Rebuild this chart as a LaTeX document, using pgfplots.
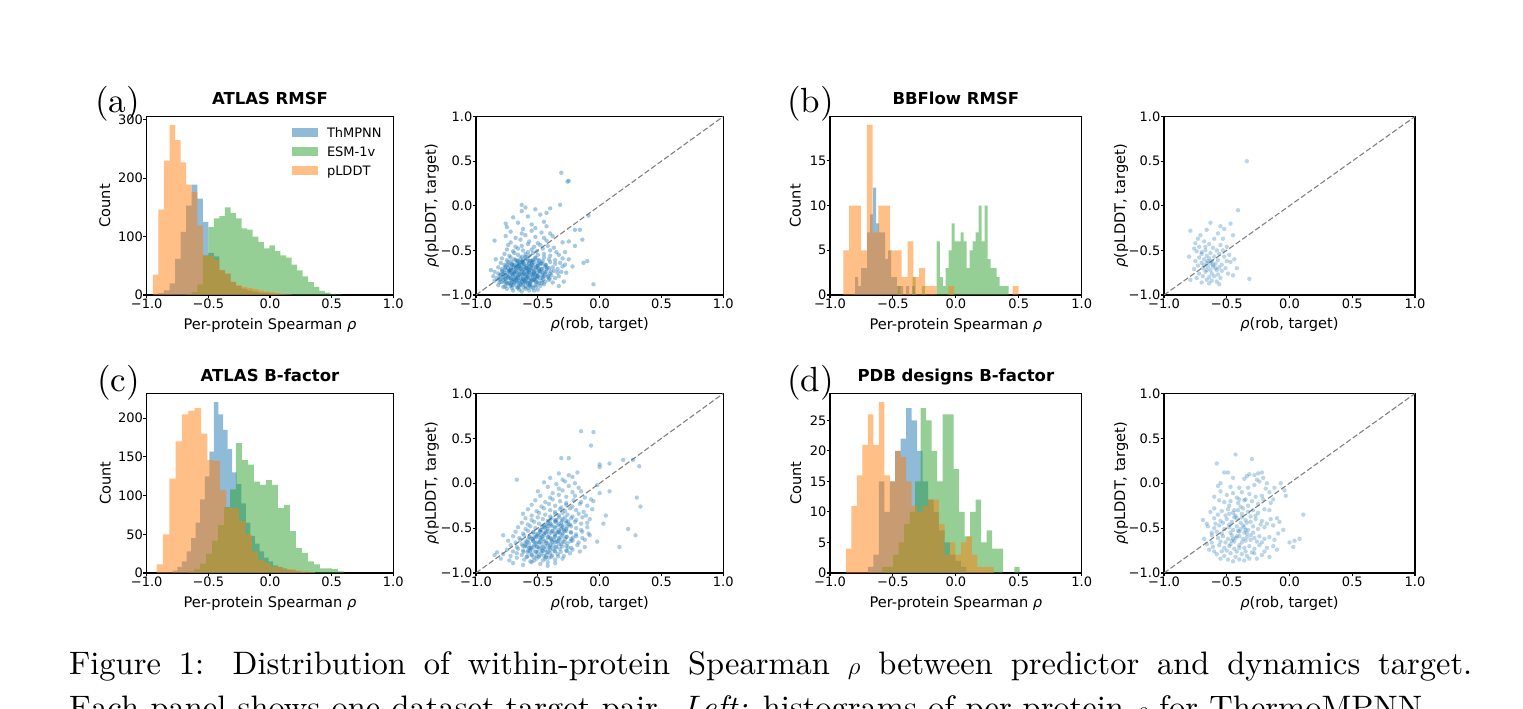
\documentclass[border=0pt]{standalone}
\usepackage{fontspec}
\usepackage{pgfplots}
\pgfplotsset{compat=1.18}
\newfontfamily\dv{DejaVu Sans}
\newfontfamily\capfont[ItalicFont=lmroman10-italic.otf, BoldFont=lmroman10-bold.otf]{lmroman10-regular.otf}
\definecolor{c0}{HTML}{1F77B4}
\definecolor{c1}{HTML}{2CA02C}
\definecolor{c2}{HTML}{FF7F0E}
\pgfplotsset{
 base/.style={scale only axis, anchor=south west, xmin=-1, xmax=1,
   xtick={-1,-0.5,0,0.5,1}, xticklabels={−1.0,−0.5,0.0,0.5,1.0},
   tick align=outside, major tick length=3.5pt, xtick pos=left, ytick pos=left,
   axis line style={line width=1.1pt}, every tick/.style={black, line width=1.1pt},
   tick label style={font=\dv\fontsize{13}{15}\selectfont, inner sep=0pt},
   label style={font=\dv\fontsize{14.6}{17}\selectfont},
   title style={font=\dv\bfseries\fontsize{16.5}{19}\selectfont, anchor=base, at={(axis description cs:0.5,1.0336)}},
   xlabel style={at={(axis description cs:0.5,-0.1905)}, anchor=base},
 },
 hist/.style={base, ymin=0, xlabel={Per-protein Spearman {\itshape ρ}}, ylabel={Count}},
 sc/.style={base, ymin=-1, ymax=1, ytick={-1,-0.5,0,0.5,1}, yticklabels={−1.0,−0.5,0.0,0.5,1.0},
   xlabel={{\itshape ρ}(rob, target)}, ylabel={{\itshape ρ}(pLDDT, target)}},
 bar/.style={ybar interval, draw=none, fill=#1, fill opacity=0.5, forget plot},
 pts/.style={only marks, mark=*, mark size=2.2pt, c0, mark options={draw=c0, fill=c0, draw opacity=0, fill opacity=#1}, forget plot},
 pts/.default=0.3,
 diag/.style={black!50, line width=1.1pt, dash pattern=on 5.5pt off 2.5pt, forget plot},
}
\begin{document}
\begin{tikzpicture}
\path[use as bounding box] (0pt,0pt) rectangle (1523pt,709pt);
\clip (0pt,0pt) rectangle (1523pt,709pt);

% ---------------- (a) histogram ----------------
\begin{axis}[hist, at={(146.7pt,414pt)}, width=246.6pt, height=178.5pt,
  ymax=305.5, ytick={0,100,200,300}, yticklabels={0,100,200,300},
  title={ATLAS RMSF},
  ylabel style={at={(axis description cs:-0.1488,0.5)}, anchor=base},
  legend style={at={(axis description cs:0.588,0.938)}, anchor=north west, draw=none, fill=none,
    inner sep=0pt, row sep=9.5pt, column sep=9.4pt, font=\dv\fontsize{13}{15}\selectfont,
    nodes={inner sep=0pt, text height=9.5pt, text depth=0pt}},
  legend cell align=left,
  legend image code/.code={\fill[#1] (0pt,-4.2pt) rectangle (25.7pt,4.2pt);}]
\addplot[bar=c0] coordinates {(-0.950,0) (-0.905,3) (-0.860,8) (-0.815,20) (-0.770,62) (-0.725,108) (-0.680,153) (-0.635,189) (-0.590,165) (-0.545,125) (-0.500,72) (-0.455,66) (-0.410,42) (-0.365,36) (-0.320,22) (-0.275,15) (-0.230,11) (-0.185,8) (-0.140,6) (-0.095,4) (-0.050,3) (-0.005,2) (0.040,1) (0.085,0)};
\addplot[bar=c1] coordinates {(-0.680,2) (-0.635,5) (-0.590,18) (-0.545,68) (-0.500,116) (-0.455,131) (-0.410,135) (-0.365,150) (-0.320,140) (-0.275,131) (-0.230,114) (-0.185,112) (-0.140,100) (-0.095,91) (-0.050,80) (-0.005,85) (0.040,75) (0.085,68) (0.130,64) (0.175,52) (0.220,42) (0.265,32) (0.310,22) (0.355,14) (0.400,7) (0.445,4) (0.490,2) (0.535,1) (0.580,0)};
\addplot[bar=c2] coordinates {(-0.950,35) (-0.905,146) (-0.860,230) (-0.815,291) (-0.770,265) (-0.725,227) (-0.680,189) (-0.635,176) (-0.590,119) (-0.545,68) (-0.500,67) (-0.455,60) (-0.410,43) (-0.365,37) (-0.320,23) (-0.275,17) (-0.230,14) (-0.185,12) (-0.140,10) (-0.095,8) (-0.050,6) (-0.005,5) (0.040,3) (0.085,2) (0.130,1) (0.175,0)};
\addlegendimage{fill=c0, fill opacity=0.5, draw=none}
\addlegendentry{ThMPNN}
\addlegendimage{fill=c1, fill opacity=0.5, draw=none}
\addlegendentry{ESM-1v}
\addlegendimage{fill=c2, fill opacity=0.5, draw=none}
\addlegendentry{pLDDT}
\end{axis}

% ---------------- (a) scatter ----------------
\begin{axis}[sc, at={(476pt,414pt)}, width=247.3pt, height=178.5pt,
  ylabel style={at={(axis description cs:-0.162,0.5)}, anchor=base}]
\addplot[pts=0.4] coordinates {
(-0.75,-0.93) (-0.70,-0.95) (-0.66,-0.92) (-0.63,-0.96) (-0.60,-0.93) (-0.57,-0.95) (-0.54,-0.92) (-0.50,-0.94)
(-0.82,-0.89) (-0.78,-0.91) (-0.75,-0.88) (-0.72,-0.90) (-0.69,-0.87) (-0.67,-0.91) (-0.64,-0.89) (-0.62,-0.88) (-0.60,-0.90) (-0.58,-0.87) (-0.55,-0.91) (-0.52,-0.89) (-0.48,-0.90) (-0.45,-0.88)
(-0.85,-0.84) (-0.81,-0.86) (-0.78,-0.83) (-0.76,-0.85) (-0.73,-0.86) (-0.71,-0.84) (-0.69,-0.82) (-0.67,-0.86) (-0.65,-0.84) (-0.63,-0.85) (-0.61,-0.83) (-0.59,-0.86) (-0.57,-0.84) (-0.55,-0.85) (-0.53,-0.83) (-0.50,-0.86) (-0.47,-0.84) (-0.44,-0.85) (-0.41,-0.83) (-0.38,-0.86)
(-0.86,-0.79) (-0.83,-0.81) (-0.80,-0.78) (-0.78,-0.80) (-0.76,-0.82) (-0.74,-0.79) (-0.72,-0.81) (-0.70,-0.78) (-0.68,-0.80) (-0.66,-0.81) (-0.64,-0.79) (-0.62,-0.82) (-0.60,-0.78) (-0.58,-0.80) (-0.56,-0.81) (-0.54,-0.79) (-0.52,-0.80) (-0.50,-0.78) (-0.48,-0.81) (-0.45,-0.79) (-0.42,-0.80) (-0.39,-0.78) (-0.36,-0.81) (-0.33,-0.79)
(-0.85,-0.74) (-0.82,-0.76) (-0.79,-0.73) (-0.77,-0.75) (-0.75,-0.77) (-0.73,-0.74) (-0.71,-0.76) (-0.69,-0.73) (-0.67,-0.75) (-0.65,-0.77) (-0.63,-0.74) (-0.61,-0.76) (-0.59,-0.73) (-0.57,-0.75) (-0.55,-0.77) (-0.53,-0.74) (-0.51,-0.76) (-0.49,-0.73) (-0.46,-0.75) (-0.43,-0.74) (-0.40,-0.76) (-0.37,-0.73) (-0.34,-0.75) (-0.31,-0.74)
(-0.82,-0.69) (-0.79,-0.71) (-0.76,-0.68) (-0.74,-0.70) (-0.72,-0.72) (-0.70,-0.69) (-0.68,-0.71) (-0.66,-0.68) (-0.64,-0.70) (-0.62,-0.72) (-0.60,-0.69) (-0.58,-0.71) (-0.56,-0.68) (-0.54,-0.70) (-0.52,-0.72) (-0.50,-0.69) (-0.47,-0.71) (-0.44,-0.68) (-0.41,-0.70) (-0.38,-0.69) (-0.34,-0.71) (-0.30,-0.68)
(-0.80,-0.64) (-0.77,-0.66) (-0.74,-0.63) (-0.71,-0.65) (-0.69,-0.67) (-0.67,-0.64) (-0.65,-0.66) (-0.63,-0.63) (-0.61,-0.65) (-0.59,-0.67) (-0.57,-0.64) (-0.55,-0.66) (-0.53,-0.63) (-0.50,-0.65) (-0.47,-0.64) (-0.44,-0.66) (-0.40,-0.63) (-0.36,-0.65) (-0.32,-0.64) (-0.28,-0.66)
(-0.79,-0.59) (-0.75,-0.61) (-0.72,-0.58) (-0.69,-0.60) (-0.66,-0.62) (-0.64,-0.59) (-0.62,-0.61) (-0.60,-0.58) (-0.58,-0.60) (-0.55,-0.62) (-0.52,-0.59) (-0.49,-0.61) (-0.45,-0.58) (-0.41,-0.60) (-0.36,-0.61) (-0.30,-0.59)
(-0.77,-0.54) (-0.73,-0.56) (-0.69,-0.53) (-0.66,-0.55) (-0.63,-0.57) (-0.60,-0.54) (-0.57,-0.56) (-0.54,-0.53) (-0.50,-0.55) (-0.45,-0.54) (-0.40,-0.56) (-0.33,-0.55)
(-0.75,-0.49) (-0.70,-0.51) (-0.66,-0.48) (-0.62,-0.50) (-0.58,-0.52) (-0.55,-0.49) (-0.51,-0.51) (-0.46,-0.48) (-0.40,-0.50) (-0.35,-0.52)
(-0.74,-0.44) (-0.68,-0.46) (-0.63,-0.45) (-0.58,-0.43) (-0.53,-0.46) (-0.48,-0.44) (-0.42,-0.45) (-0.37,-0.47)
(-0.85,-0.39) (-0.72,-0.41) (-0.64,-0.38) (-0.57,-0.40) (-0.50,-0.42) (-0.43,-0.39) (-0.30,-0.41)
(-0.76,-0.34) (-0.68,-0.36) (-0.60,-0.33) (-0.52,-0.35) (-0.45,-0.36) (-0.38,-0.34)
(-0.72,-0.29) (-0.63,-0.31) (-0.55,-0.28) (-0.47,-0.30) (-0.40,-0.31)
(-0.75,-0.24) (-0.62,-0.26) (-0.52,-0.25) (-0.43,-0.23)
(-0.76,-0.20) (-0.66,-0.19) (-0.55,-0.21) (-0.45,-0.18)
(-0.70,-0.13) (-0.58,-0.12) (-0.48,-0.10) (-0.63,-0.06) (-0.52,-0.04) (-0.63,0.01) (-0.60,-0.02) (-0.40,-0.03) (-0.32,0.01) (-0.43,-0.08)
(-0.31,0.37) (-0.25,0.28) (-0.26,0.27) (-0.09,-0.11) (-0.20,-0.27) (-0.16,-0.27) (-0.14,-0.38) (-0.20,-0.45) (-0.10,-0.62) (-0.13,-0.64) (-0.05,-0.88) (-0.28,-0.52) (-0.25,-0.60) (-0.22,-0.68) (-0.27,-0.75) (-0.29,-0.85) (-0.88,-0.72) (-0.84,-0.60) (-0.25,-0.40) (-0.33,-0.90)
(-0.72,-0.87) (-0.68,-0.84) (-0.64,-0.88) (-0.60,-0.85) (-0.56,-0.88) (-0.52,-0.84) (-0.74,-0.81) (-0.70,-0.83) (-0.66,-0.78) (-0.62,-0.82) (-0.58,-0.77) (-0.54,-0.83) (-0.50,-0.79) (-0.73,-0.72) (-0.69,-0.76) (-0.65,-0.71) (-0.61,-0.77) (-0.57,-0.72) (-0.53,-0.76) (-0.49,-0.71) (-0.71,-0.66) (-0.67,-0.69) (-0.63,-0.67) (-0.59,-0.70) (-0.55,-0.66) (-0.51,-0.68) (-0.47,-0.65) (-0.68,-0.61) (-0.64,-0.63) (-0.60,-0.57) (-0.56,-0.62) (-0.52,-0.58)
(-0.71,-0.92) (-0.65,-0.94) (-0.58,-0.92) (-0.53,-0.95) (-0.77,-0.86) (-0.70,-0.89) (-0.62,-0.86) (-0.57,-0.89) (-0.49,-0.87) (-0.80,-0.82) (-0.73,-0.80) (-0.67,-0.83) (-0.59,-0.81) (-0.53,-0.82) (-0.46,-0.80) (-0.78,-0.77) (-0.72,-0.75) (-0.64,-0.76) (-0.58,-0.75) (-0.52,-0.77) (-0.44,-0.77) (-0.76,-0.72) (-0.68,-0.74) (-0.61,-0.71) (-0.55,-0.73) (-0.48,-0.74) (-0.73,-0.67) (-0.65,-0.68) (-0.57,-0.69) (-0.50,-0.67) (-0.43,-0.71) (-0.62,-0.64) (-0.54,-0.61) (-0.46,-0.62)
(-0.765,-0.905) (-0.715,-0.885) (-0.655,-0.905) (-0.615,-0.915) (-0.565,-0.895) (-0.515,-0.905)
(-0.795,-0.855) (-0.745,-0.865) (-0.695,-0.855) (-0.655,-0.865) (-0.605,-0.845) (-0.565,-0.865) (-0.515,-0.855) (-0.465,-0.865)
(-0.815,-0.825) (-0.765,-0.815) (-0.715,-0.825) (-0.675,-0.815) (-0.635,-0.825) (-0.595,-0.815) (-0.555,-0.835) (-0.505,-0.815) (-0.455,-0.825) (-0.405,-0.815)
(-0.805,-0.775) (-0.755,-0.785) (-0.705,-0.775) (-0.665,-0.795) (-0.625,-0.775) (-0.585,-0.795) (-0.545,-0.775) (-0.505,-0.795) (-0.465,-0.775) (-0.415,-0.785)
(-0.785,-0.745) (-0.735,-0.735) (-0.695,-0.745) (-0.655,-0.735) (-0.615,-0.745) (-0.575,-0.735) (-0.535,-0.745) (-0.485,-0.735) (-0.445,-0.745) (-0.395,-0.735)
(-0.765,-0.695) (-0.715,-0.705) (-0.675,-0.695) (-0.635,-0.705) (-0.595,-0.695) (-0.555,-0.705) (-0.515,-0.695) (-0.465,-0.705) (-0.425,-0.695)
(-0.745,-0.655) (-0.695,-0.665) (-0.655,-0.655) (-0.615,-0.665) (-0.575,-0.655) (-0.535,-0.665) (-0.485,-0.655) (-0.435,-0.665)
(-0.715,-0.625) (-0.665,-0.615) (-0.625,-0.625) (-0.585,-0.615) (-0.545,-0.625) (-0.495,-0.615)
};
\addplot[diag] coordinates {(-1,-1) (1,1)};
\end{axis}

% ---------------- (b) histogram ----------------
\begin{axis}[hist, at={(830pt,414pt)}, width=251.7pt, height=178.5pt,
  ymax=19.95, ytick={0,5,10,15}, yticklabels={0,5,10,15},
  title={BBFlow RMSF},
  ylabel style={at={(axis description cs:-0.1164,0.5)}, anchor=base}]
\addplot[bar=c0] coordinates {(-0.801,2) (-0.777,1) (-0.753,3) (-0.730,3) (-0.706,7) (-0.682,9) (-0.658,12) (-0.634,8) (-0.610,7) (-0.587,7) (-0.563,4) (-0.539,5) (-0.515,2) (-0.491,2) (-0.468,1) (-0.444,1) (-0.420,0) (-0.396,1) (-0.372,0) (-0.348,1) (-0.325,0)};
\addplot[bar=c1] coordinates {(-0.462,1) (-0.438,0) (-0.414,0) (-0.390,0) (-0.366,0) (-0.343,2) (-0.319,0) (-0.295,0) (-0.271,1) (-0.247,0) (-0.224,0) (-0.200,0) (-0.176,0) (-0.152,6) (-0.128,2) (-0.104,1) (-0.081,3) (-0.057,5) (-0.033,8) (-0.009,6) (0.015,6) (0.038,7) (0.062,6) (0.086,3) (0.110,5) (0.134,6) (0.157,7) (0.181,10) (0.205,6) (0.229,10) (0.253,4) (0.276,3) (0.300,3) (0.324,2) (0.348,1) (0.372,1) (0.395,1) (0.419,0)};
\addplot[bar=c2] coordinates {(-0.894,5) (-0.848,10) (-0.801,10) (-0.755,5) (-0.708,19) (-0.662,7) (-0.616,10) (-0.569,10) (-0.523,5) (-0.476,5) (-0.430,2) (-0.384,6) (-0.337,2) (-0.291,3) (-0.244,1) (-0.198,1) (-0.152,0) (-0.105,0) (-0.059,1) (-0.012,0) (0.034,0) (0.080,0) (0.127,0) (0.173,0) (0.220,0) (0.266,0) (0.313,0) (0.359,0) (0.405,0) (0.452,1) (0.498,0)};
\end{axis}

% ---------------- (b) scatter ----------------
\begin{axis}[sc, at={(1164pt,414pt)}, width=251pt, height=178.5pt,
  ylabel style={at={(axis description cs:-0.155,0.5)}, anchor=base}]
\addplot[pts] coordinates {
(-0.34,0.50) (-0.41,-0.05) (-0.47,-0.20) (-0.63,-0.19) (-0.55,-0.23) (-0.52,-0.26) (-0.66,-0.27) (-0.79,-0.28) (-0.57,-0.31) (-0.45,-0.33) (-0.71,-0.33) (-0.73,-0.37) (-0.60,-0.37) (-0.53,-0.37) (-0.68,-0.40) (-0.75,-0.42) (-0.64,-0.43) (-0.55,-0.44) (-0.50,-0.46) (-0.72,-0.46) (-0.61,-0.47) (-0.67,-0.50) (-0.58,-0.50) (-0.74,-0.51) (-0.63,-0.53) (-0.70,-0.54) (-0.56,-0.54) (-0.80,-0.57) (-0.66,-0.56) (-0.60,-0.57) (-0.52,-0.57) (-0.72,-0.58) (-0.68,-0.60) (-0.64,-0.59) (-0.62,-0.62) (-0.57,-0.61) (-0.50,-0.62) (-0.75,-0.62) (-0.70,-0.64) (-0.66,-0.64) (-0.59,-0.65) (-0.54,-0.66) (-0.47,-0.63) (-0.73,-0.67) (-0.65,-0.68) (-0.61,-0.68) (-0.56,-0.69) (-0.51,-0.70) (-0.42,-0.70) (-0.69,-0.70) (-0.76,-0.71) (-0.63,-0.72) (-0.58,-0.72) (-0.54,-0.73) (-0.67,-0.74) (-0.72,-0.76) (-0.62,-0.76) (-0.57,-0.77) (-0.49,-0.76) (-0.69,-0.79) (-0.64,-0.80) (-0.60,-0.79) (-0.55,-0.81) (-0.74,-0.81) (-0.66,-0.83) (-0.62,-0.84) (-0.58,-0.85) (-0.70,-0.86) (-0.64,-0.87) (-0.56,-0.88) (-0.79,-0.83) (-0.32,-0.82) (-0.45,-0.78) (-0.48,-0.55) (-0.44,-0.60) (-0.67,-0.46) (-0.70,-0.52) (-0.65,-0.62) (-0.61,-0.66) (-0.66,-0.72) (-0.63,-0.64) (-0.59,-0.70) (-0.68,-0.67) (-0.53,-0.50) (-0.76,-0.48)
};
\addplot[diag] coordinates {(-1,-1) (1,1)};
\end{axis}

% ---------------- (c) histogram ----------------
\begin{axis}[hist, at={(146.7pt,136pt)}, width=246.6pt, height=179.5pt,
  ymax=232, ytick={0,50,100,150,200}, yticklabels={0,50,100,150,200},
  title={ATLAS B-factor},
  ylabel style={at={(axis description cs:-0.146,0.5)}, anchor=base}]
\addplot[bar=c0] coordinates {(-0.788,3) (-0.751,8) (-0.714,15) (-0.677,28) (-0.640,45) (-0.603,65) (-0.566,95) (-0.529,125) (-0.492,157) (-0.455,221) (-0.418,205) (-0.381,185) (-0.344,160) (-0.307,130) (-0.270,115) (-0.233,90) (-0.196,65) (-0.159,48) (-0.122,38) (-0.085,28) (-0.048,20) (-0.011,15) (0.026,10) (0.063,8) (0.100,6) (0.137,4) (0.174,3) (0.211,2) (0.248,1) (0.285,0)};
\addplot[bar=c1] coordinates {(-0.665,2) (-0.616,5) (-0.567,12) (-0.519,25) (-0.470,42) (-0.422,62) (-0.373,85) (-0.324,108) (-0.276,168) (-0.227,146) (-0.178,140) (-0.130,118) (-0.081,114) (-0.033,120) (0.016,114) (0.064,84) (0.113,88) (0.162,54) (0.210,32) (0.259,26) (0.307,15) (0.356,11) (0.405,6) (0.453,6) (0.502,5) (0.550,2) (0.599,0)};
\addplot[bar=c2] coordinates {(-0.919,11) (-0.868,50) (-0.816,122) (-0.765,170) (-0.714,205) (-0.662,210) (-0.611,213) (-0.559,180) (-0.508,146) (-0.457,145) (-0.405,107) (-0.354,84) (-0.303,84) (-0.251,67) (-0.200,50) (-0.148,28) (-0.097,17) (-0.046,13) (0.006,8) (0.057,8) (0.108,5) (0.160,5) (0.211,3) (0.263,2) (0.314,1) (0.365,0)};
\end{axis}

% ---------------- (c) scatter ----------------
\begin{axis}[sc, at={(476pt,136pt)}, width=247.3pt, height=179.5pt,
  ylabel style={at={(axis description cs:-0.162,0.5)}, anchor=base}]
\addplot[pts=0.37] coordinates {
(-0.70,-0.89) (-0.62,-0.91) (-0.55,-0.88) (-0.48,-0.90) (-0.42,-0.92) (-0.36,-0.89)
(-0.80,-0.84) (-0.73,-0.86) (-0.67,-0.83) (-0.61,-0.85) (-0.56,-0.87) (-0.51,-0.84) (-0.46,-0.86) (-0.41,-0.83) (-0.36,-0.85) (-0.30,-0.84)
(-0.78,-0.79) (-0.72,-0.81) (-0.67,-0.78) (-0.63,-0.80) (-0.59,-0.82) (-0.55,-0.79) (-0.51,-0.81) (-0.47,-0.78) (-0.43,-0.80) (-0.39,-0.82) (-0.34,-0.79) (-0.29,-0.81) (-0.24,-0.78)
(-0.75,-0.74) (-0.70,-0.76) (-0.66,-0.73) (-0.62,-0.75) (-0.58,-0.77) (-0.55,-0.74) (-0.52,-0.76) (-0.49,-0.73) (-0.46,-0.75) (-0.43,-0.77) (-0.40,-0.74) (-0.36,-0.76) (-0.32,-0.73) (-0.27,-0.75) (-0.22,-0.74) (-0.16,-0.76)
(-0.72,-0.69) (-0.67,-0.71) (-0.63,-0.68) (-0.59,-0.70) (-0.56,-0.72) (-0.53,-0.69) (-0.50,-0.71) (-0.47,-0.68) (-0.44,-0.70) (-0.41,-0.72) (-0.38,-0.69) (-0.35,-0.71) (-0.31,-0.68) (-0.27,-0.70) (-0.23,-0.72) (-0.18,-0.69) (-0.12,-0.71)
(-0.74,-0.64) (-0.68,-0.66) (-0.64,-0.63) (-0.60,-0.65) (-0.57,-0.67) (-0.54,-0.64) (-0.51,-0.66) (-0.48,-0.63) (-0.45,-0.65) (-0.42,-0.67) (-0.39,-0.64) (-0.36,-0.66) (-0.33,-0.63) (-0.30,-0.65) (-0.26,-0.67) (-0.22,-0.64) (-0.17,-0.66) (-0.12,-0.63)
(-0.70,-0.59) (-0.65,-0.61) (-0.61,-0.58) (-0.57,-0.60) (-0.54,-0.62) (-0.51,-0.59) (-0.48,-0.61) (-0.45,-0.58) (-0.42,-0.60) (-0.39,-0.62) (-0.36,-0.59) (-0.33,-0.61) (-0.30,-0.58) (-0.27,-0.60) (-0.23,-0.62) (-0.19,-0.59) (-0.14,-0.61) (-0.08,-0.58)
(-0.68,-0.54) (-0.62,-0.56) (-0.58,-0.53) (-0.54,-0.55) (-0.51,-0.57) (-0.48,-0.54) (-0.45,-0.56) (-0.42,-0.53) (-0.39,-0.55) (-0.36,-0.57) (-0.33,-0.54) (-0.30,-0.56) (-0.27,-0.53) (-0.23,-0.55) (-0.19,-0.57) (-0.14,-0.54) (-0.09,-0.56)
(-0.66,-0.49) (-0.60,-0.51) (-0.56,-0.48) (-0.52,-0.50) (-0.48,-0.52) (-0.45,-0.49) (-0.42,-0.51) (-0.39,-0.48) (-0.36,-0.50) (-0.33,-0.52) (-0.30,-0.49) (-0.27,-0.51) (-0.23,-0.48) (-0.19,-0.50) (-0.15,-0.52) (-0.10,-0.49)
(-0.63,-0.44) (-0.58,-0.46) (-0.53,-0.43) (-0.49,-0.45) (-0.45,-0.47) (-0.42,-0.44) (-0.39,-0.46) (-0.36,-0.43) (-0.33,-0.45) (-0.30,-0.47) (-0.27,-0.44) (-0.24,-0.46) (-0.20,-0.43) (-0.15,-0.45) (-0.10,-0.44)
(-0.60,-0.39) (-0.55,-0.41) (-0.50,-0.38) (-0.46,-0.40) (-0.42,-0.42) (-0.39,-0.39) (-0.36,-0.41) (-0.33,-0.38) (-0.30,-0.40) (-0.27,-0.42) (-0.23,-0.39) (-0.19,-0.41) (-0.14,-0.38) (-0.08,-0.40)
(-0.62,-0.34) (-0.55,-0.36) (-0.49,-0.33) (-0.44,-0.35) (-0.40,-0.37) (-0.36,-0.34) (-0.33,-0.36) (-0.30,-0.33) (-0.26,-0.35) (-0.22,-0.37) (-0.17,-0.34) (-0.11,-0.36)
(-0.58,-0.29) (-0.51,-0.31) (-0.45,-0.28) (-0.40,-0.30) (-0.36,-0.32) (-0.32,-0.29) (-0.28,-0.31) (-0.24,-0.28) (-0.19,-0.30) (-0.13,-0.32) (-0.06,-0.29)
(-0.55,-0.24) (-0.47,-0.26) (-0.41,-0.23) (-0.36,-0.25) (-0.31,-0.27) (-0.27,-0.24) (-0.22,-0.26) (-0.16,-0.23) (-0.10,-0.25)
(-0.52,-0.19) (-0.44,-0.21) (-0.38,-0.18) (-0.32,-0.20) (-0.27,-0.22) (-0.21,-0.19) (-0.15,-0.21) (-0.07,-0.18)
(-0.48,-0.14) (-0.40,-0.16) (-0.33,-0.13) (-0.27,-0.15) (-0.20,-0.14) (-0.12,-0.16)
(-0.50,-0.09) (-0.38,-0.11) (-0.30,-0.08) (-0.22,-0.10) (-0.15,-0.09)
(-0.42,-0.04) (-0.33,-0.06) (-0.25,-0.03) (-0.17,-0.05)
(-0.45,0.01) (-0.35,-0.01) (-0.28,0.02) (-0.20,0.00)
(-0.40,0.06) (-0.30,0.04) (-0.22,0.07)
(-0.33,0.11) (-0.25,0.09) (-0.18,0.12)
(-0.15,0.58) (-0.05,0.57) (-0.07,0.42) (-0.31,0.28) (-0.25,0.28) (0.00,0.21) (0.00,0.18) (0.08,0.22) (0.19,0.26) (0.27,0.26) (0.32,0.19) (0.30,-0.16) (0.33,-0.26) (0.23,-0.51) (0.29,-0.58) (0.16,-0.71) (0.08,-0.09) (0.00,-0.11) (0.05,-0.36) (-0.67,0.04) (-0.83,-0.77) (-0.85,-0.80) (-0.78,-0.58) (-0.02,-0.65) (0.03,-0.45) (-0.05,-0.20) (-0.02,-0.02)
(-0.55,-0.80) (-0.50,-0.77) (-0.45,-0.81) (-0.40,-0.78) (-0.57,-0.72) (-0.52,-0.67) (-0.47,-0.72) (-0.43,-0.67) (-0.38,-0.73) (-0.33,-0.68) (-0.55,-0.62) (-0.50,-0.57) (-0.46,-0.62) (-0.41,-0.57) (-0.37,-0.63) (-0.32,-0.56) (-0.28,-0.62) (-0.47,-0.52) (-0.43,-0.47) (-0.38,-0.53) (-0.34,-0.47) (-0.29,-0.52) (-0.25,-0.46) (-0.60,-0.68) (-0.42,-0.88)
(-0.53,-0.86) (-0.49,-0.82) (-0.44,-0.84) (-0.58,-0.75) (-0.53,-0.71) (-0.49,-0.66) (-0.44,-0.74) (-0.40,-0.69) (-0.35,-0.65) (-0.53,-0.60) (-0.48,-0.58) (-0.44,-0.55) (-0.40,-0.61) (-0.35,-0.55) (-0.31,-0.51) (-0.44,-0.50) (-0.40,-0.45) (-0.35,-0.41) (-0.31,-0.44) (-0.28,-0.38) (-0.58,-0.63) (-0.62,-0.70)
(-0.585,-0.815) (-0.535,-0.825) (-0.485,-0.805) (-0.435,-0.825) (-0.385,-0.805) (-0.335,-0.815)
(-0.615,-0.765) (-0.565,-0.755) (-0.515,-0.765) (-0.465,-0.755) (-0.415,-0.765) (-0.365,-0.755) (-0.315,-0.765) (-0.265,-0.755)
(-0.605,-0.705) (-0.555,-0.715) (-0.505,-0.705) (-0.455,-0.715) (-0.405,-0.705) (-0.355,-0.715) (-0.305,-0.705) (-0.255,-0.715)
(-0.585,-0.655) (-0.535,-0.645) (-0.485,-0.655) (-0.435,-0.645) (-0.385,-0.655) (-0.335,-0.645) (-0.285,-0.655) (-0.235,-0.645)
(-0.565,-0.595) (-0.515,-0.605) (-0.465,-0.595) (-0.415,-0.605) (-0.365,-0.595) (-0.315,-0.605) (-0.265,-0.595) (-0.215,-0.605)
(-0.535,-0.545) (-0.485,-0.535) (-0.435,-0.545) (-0.385,-0.535) (-0.335,-0.545) (-0.285,-0.535) (-0.235,-0.545)
(-0.465,-0.485) (-0.415,-0.475) (-0.365,-0.485) (-0.315,-0.475) (-0.265,-0.485)
(-0.405,-0.415) (-0.355,-0.425) (-0.305,-0.415) (-0.255,-0.425)
};
\addplot[diag] coordinates {(-1,-1) (1,1)};
\end{axis}

% ---------------- (d) histogram ----------------
\begin{axis}[hist, at={(830pt,136pt)}, width=251.7pt, height=179.5pt,
  ymax=29.4, ytick={0,5,10,15,20,25}, yticklabels={0,5,10,15,20,25},
  title={PDB designs B-factor},
  ylabel style={at={(axis description cs:-0.115,0.5)}, anchor=base}]
\addplot[bar=c0] coordinates {(-0.699,1) (-0.656,3) (-0.612,15) (-0.569,10) (-0.525,15) (-0.482,20) (-0.438,22) (-0.395,27) (-0.351,25) (-0.308,20) (-0.264,15) (-0.221,12) (-0.177,10) (-0.134,7) (-0.090,5) (-0.047,3) (-0.003,2) (0.040,1) (0.084,0)};
\addplot[bar=c1] coordinates {(-0.586,1) (-0.542,1) (-0.498,3) (-0.455,5) (-0.411,8) (-0.367,10) (-0.324,15) (-0.280,27) (-0.236,25) (-0.192,20) (-0.149,15) (-0.105,26) (-0.061,26) (-0.017,17) (0.026,10) (0.070,6) (0.114,10) (0.158,12) (0.201,5) (0.245,7) (0.289,4) (0.333,4) (0.376,0) (0.420,0) (0.464,1) (0.507,0)};
\addplot[bar=c2] coordinates {(-0.873,4) (-0.830,11) (-0.786,16) (-0.743,21) (-0.699,26) (-0.656,21) (-0.612,28) (-0.569,16) (-0.525,15) (-0.482,20) (-0.438,19) (-0.395,15) (-0.351,11) (-0.308,10) (-0.264,11) (-0.221,12) (-0.177,12) (-0.134,8) (-0.090,3) (-0.047,5) (-0.003,3) (0.040,5) (0.084,6) (0.127,3) (0.171,1) (0.214,1) (0.258,1) (0.301,0)};
\end{axis}

% ---------------- (d) scatter ----------------
\begin{axis}[sc, at={(1164pt,136pt)}, width=251pt, height=179.5pt,
  ylabel style={at={(axis description cs:-0.155,0.5)}, anchor=base}]
\addplot[pts] coordinates {
(-0.43,0.32) (-0.30,0.27) (-0.58,0.22)
(-0.52,0.12) (-0.49,0.12) (-0.32,0.10) (-0.28,0.09) (-0.25,0.11) (-0.22,0.12) (-0.34,0.08) (-0.21,0.06) (-0.26,0.04) (-0.36,0.05)
(-0.55,0.00) (-0.47,-0.04) (-0.40,-0.05) (-0.33,-0.05) (-0.28,-0.02) (-0.24,0.02) (-0.19,-0.06) (-0.12,-0.05) (-0.07,0.00) (-0.04,-0.08) (-0.03,-0.14)
(-0.55,-0.09) (-0.50,-0.13) (-0.45,-0.11) (-0.38,-0.10) (-0.32,-0.12) (-0.27,-0.15) (-0.22,-0.14) (-0.16,-0.10) (-0.42,-0.16) (-0.35,-0.18)
(-0.56,-0.19) (-0.52,-0.21) (-0.47,-0.20) (-0.41,-0.22) (-0.36,-0.19) (-0.30,-0.20) (-0.25,-0.23) (-0.21,-0.18) (-0.15,-0.22) (-0.48,-0.25) (-0.39,-0.26)
(-0.60,-0.28) (-0.54,-0.31) (-0.49,-0.29) (-0.45,-0.33) (-0.41,-0.30) (-0.37,-0.28) (-0.33,-0.32) (-0.29,-0.30) (-0.25,-0.33) (-0.20,-0.29) (-0.43,-0.36) (-0.38,-0.34) (-0.51,-0.36) (-0.57,-0.35) (-0.31,-0.37)
(-0.69,-0.41) (-0.60,-0.39) (-0.55,-0.42) (-0.50,-0.40) (-0.46,-0.43) (-0.42,-0.39) (-0.39,-0.44) (-0.35,-0.41) (-0.31,-0.43) (-0.27,-0.40) (-0.22,-0.42) (-0.15,-0.40) (-0.10,-0.39) (0.11,-0.35) (-0.48,-0.46) (-0.44,-0.38) (-0.37,-0.47)
(-0.65,-0.48) (-0.60,-0.50) (-0.56,-0.47) (-0.52,-0.51) (-0.48,-0.49) (-0.45,-0.52) (-0.42,-0.48) (-0.39,-0.51) (-0.36,-0.49) (-0.33,-0.52) (-0.29,-0.48) (-0.25,-0.51) (-0.20,-0.49) (-0.13,-0.47) (-0.05,-0.52) (-0.47,-0.55) (-0.40,-0.54) (-0.34,-0.56) (-0.58,-0.54)
(-0.68,-0.62) (-0.62,-0.58) (-0.57,-0.61) (-0.53,-0.59) (-0.49,-0.62) (-0.46,-0.58) (-0.43,-0.61) (-0.40,-0.59) (-0.37,-0.62) (-0.34,-0.60) (-0.31,-0.58) (-0.28,-0.61) (-0.24,-0.59) (-0.20,-0.62) (-0.16,-0.60) (-0.12,-0.63) (0.04,-0.64) (0.08,-0.62) (-0.44,-0.65) (-0.38,-0.66) (-0.51,-0.66)
(-0.66,-0.68) (-0.61,-0.71) (-0.56,-0.69) (-0.52,-0.72) (-0.48,-0.70) (-0.44,-0.73) (-0.40,-0.69) (-0.36,-0.72) (-0.32,-0.70) (-0.28,-0.73) (-0.24,-0.69) (-0.18,-0.72) (-0.13,-0.70) (-0.64,-0.74) (-0.42,-0.76) (-0.30,-0.77) (0.03,-0.71)
(-0.58,-0.79) (-0.52,-0.81) (-0.47,-0.78) (-0.43,-0.82) (-0.38,-0.79) (-0.34,-0.81) (-0.28,-0.78) (-0.22,-0.80) (-0.16,-0.82) (-0.49,-0.85) (-0.45,-0.87) (-0.40,-0.85) (-0.36,-0.86)
(-0.62,-0.66) (-0.59,-0.45) (-0.54,-0.56) (-0.50,-0.75) (-0.46,-0.64) (-0.41,-0.53) (-0.38,-0.38) (-0.35,-0.64) (-0.33,-0.25) (-0.29,-0.55) (-0.26,-0.65) (-0.23,-0.46) (-0.44,-0.30) (-0.40,-0.18) (-0.53,-0.44) (-0.47,-0.68) (-0.42,-0.59) (-0.36,-0.55) (-0.31,-0.63) (-0.27,-0.36)
(-0.57,-0.03) (-0.45,0.06) (-0.18,0.00) (-0.60,-0.15) (-0.13,-0.18) (-0.63,-0.32) (-0.16,-0.30) (-0.66,-0.45) (-0.18,-0.45) (-0.08,-0.43) (-0.62,-0.55) (-0.09,-0.56) (-0.55,-0.65) (-0.22,-0.66) (-0.60,-0.76) (-0.54,-0.76) (-0.35,-0.76) (-0.20,-0.76) (-0.55,-0.84) (-0.32,-0.84) (-0.48,-0.34) (-0.34,-0.44) (-0.45,-0.62) (-0.40,-0.72) (-0.35,-0.52) (0.00,-0.66) (-0.10,-0.74) (-0.26,-0.84)
};
\addplot[diag] coordinates {(-1,-1) (1,1)};
\end{axis}

% panel labels
\node[anchor=base west, inner sep=0pt, font=\capfont\fontsize{35}{40}\selectfont] at (95pt,596pt) {(a)};
\node[anchor=base west, inner sep=0pt, font=\capfont\fontsize{35}{40}\selectfont] at (787pt,596pt) {(b)};
\node[anchor=base west, inner sep=0pt, font=\capfont\fontsize{35}{40}\selectfont] at (97pt,317.5pt) {(c)};
\node[anchor=base west, inner sep=0pt, font=\capfont\fontsize{35}{40}\selectfont] at (787pt,317.5pt) {(d)};

% caption
\node[anchor=base west, inner sep=0pt, font=\capfont\fontsize{32.5}{44}\selectfont] at (69pt,34pt)
  {\makebox[1403pt][s]{Figure 1: Distribution of within-protein Spearman $\rho$ between predictor and dynamics target.}};
\node[anchor=base west, inner sep=0pt, font=\capfont\fontsize{32.5}{44}\selectfont] at (69pt,-10pt)
  {\makebox[1353pt][s]{Each panel shows one dataset-target pair. \textit{Left:} histograms of per-protein $\rho$ for ThermoMPNN}};
\end{tikzpicture}
\end{document}
